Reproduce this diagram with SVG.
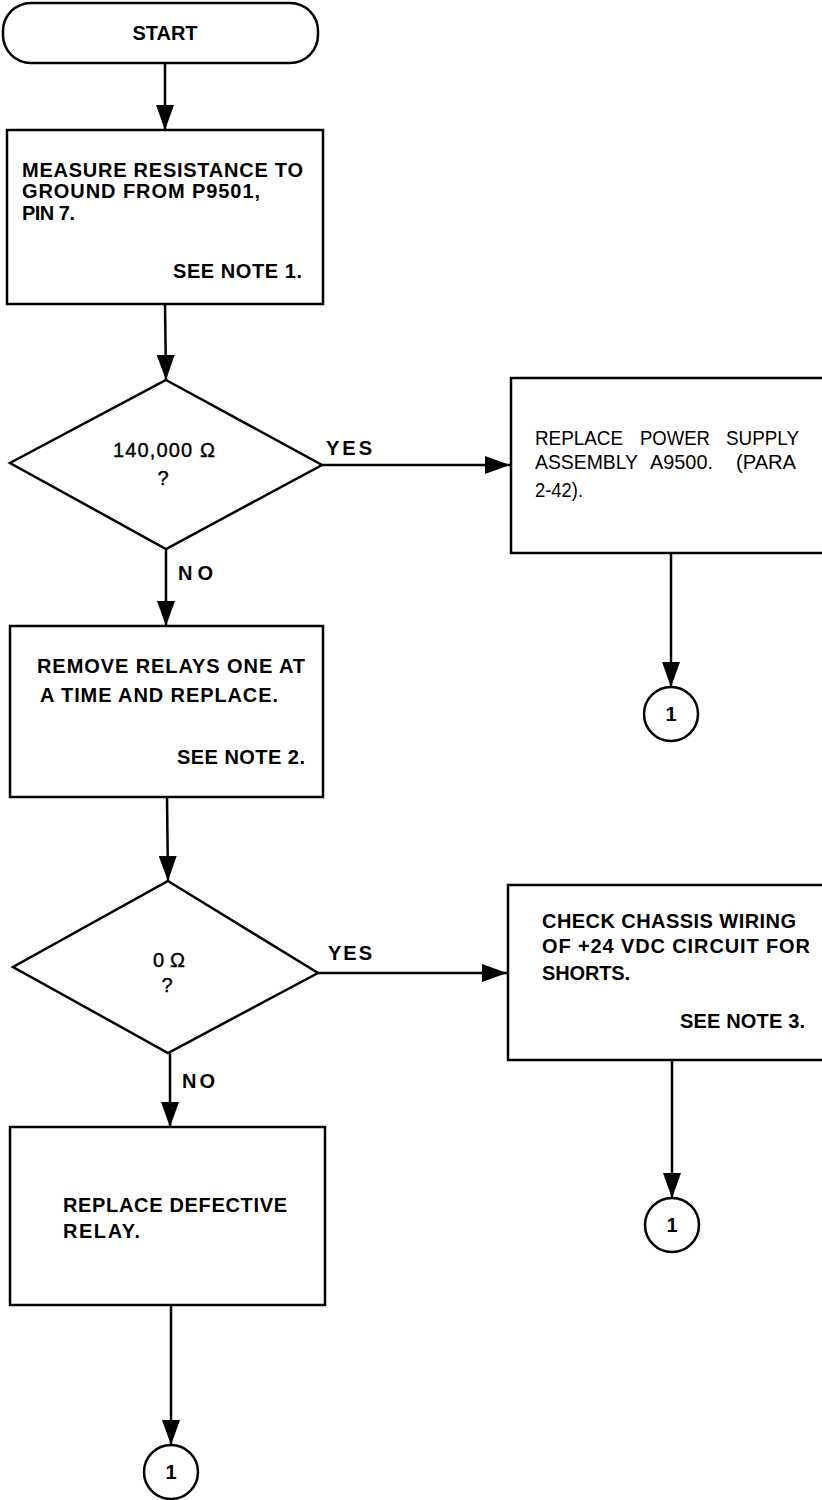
<svg xmlns="http://www.w3.org/2000/svg" width="822" height="1500" viewBox="0 0 822 1500">
<style>
.shape{fill:none;stroke:#000;stroke-width:2.5}
.line{fill:none;stroke:#000;stroke-width:2.5}
.b{font-family:"Liberation Sans",Arial,sans-serif;font-weight:bold;font-size:20px;fill:#000}
.r{font-family:"Liberation Sans",Arial,sans-serif;font-weight:normal;font-size:21px;fill:#000}
.q{font-family:"Liberation Sans",Arial,sans-serif;font-weight:normal;font-size:20px;fill:#000;stroke:#000;stroke-width:0.4}
.c{text-anchor:middle}
</style>
<defs>
<marker id="arr" markerUnits="userSpaceOnUse" markerWidth="26" markerHeight="18" refX="25" refY="9" orient="auto">
<path d="M0,0 L25,9 L0,18 z" fill="#000"/>
</marker>
</defs>
<rect width="822" height="1500" fill="#fff"/>
<g id="connectors">
<line class="line" x1="165" y1="63" x2="165" y2="130" marker-end="url(#arr)"/>
<line class="line" x1="165" y1="304" x2="166" y2="380" marker-end="url(#arr)"/>
<line class="line" x1="322" y1="465" x2="510" y2="465" marker-end="url(#arr)"/>
<line class="line" x1="166" y1="549" x2="166" y2="626" marker-end="url(#arr)"/>
<line class="line" x1="671" y1="553" x2="671" y2="687" marker-end="url(#arr)"/>
<line class="line" x1="167" y1="797" x2="168" y2="881" marker-end="url(#arr)"/>
<line class="line" x1="318" y1="973" x2="507" y2="973" marker-end="url(#arr)"/>
<line class="line" x1="170" y1="1053" x2="170" y2="1127" marker-end="url(#arr)"/>
<line class="line" x1="672" y1="1060" x2="672" y2="1198" marker-end="url(#arr)"/>
<line class="line" x1="171" y1="1305" x2="171" y2="1445" marker-end="url(#arr)"/>
<text class="b" x="326" y="455" textLength="46" lengthAdjust="spacing">YES</text>
<text class="b" x="178" y="580" textLength="35" lengthAdjust="spacing">NO</text>
<text class="b" x="328" y="960" textLength="44" lengthAdjust="spacing">YES</text>
<text class="b" x="182" y="1088" textLength="33" lengthAdjust="spacing">NO</text>
</g>
<g id="start">
<rect class="shape" x="3" y="3" width="315" height="60" rx="28" ry="28"/>
<text class="b c" x="165" y="40">START</text>
</g>
<g id="measure">
<rect class="shape" x="7" y="130" width="316" height="174"/>
<text class="b" x="22" y="177" textLength="281" lengthAdjust="spacing">MEASURE RESISTANCE TO</text>
<text class="b" x="22" y="198" textLength="238" lengthAdjust="spacing">GROUND FROM P9501,</text>
<text class="b" x="22" y="220" textLength="53" lengthAdjust="spacing">PIN 7.</text>
<text class="b" x="173" y="278" textLength="129" lengthAdjust="spacing">SEE NOTE 1.</text>
</g>
<g id="decision1">
<polygon class="shape" points="166,380 322,465 166,549 10,463"/>
<text class="q" x="113" y="457" textLength="102" lengthAdjust="spacing">140,000 Ω</text>
<text class="q c" x="163" y="485">?</text>
</g>
<g id="replace-power">
<path class="shape" d="M822,378 H511 V553 H822"/>
<text class="r" x="535" y="445" textLength="88" lengthAdjust="spacingAndGlyphs">REPLACE</text>
<text class="r" x="640" y="445" textLength="70" lengthAdjust="spacingAndGlyphs">POWER</text>
<text class="r" x="726" y="445" textLength="73" lengthAdjust="spacingAndGlyphs">SUPPLY</text>
<text class="r" x="535" y="469" textLength="103" lengthAdjust="spacingAndGlyphs">ASSEMBLY</text>
<text class="r" x="650" y="469" textLength="63" lengthAdjust="spacingAndGlyphs">A9500.</text>
<text class="r" x="736" y="469" textLength="60" lengthAdjust="spacingAndGlyphs">(PARA</text>
<text class="r" x="535" y="497" textLength="48" lengthAdjust="spacingAndGlyphs">2-42).</text>
</g>
<g id="conn1a">
<circle class="shape" cx="671" cy="714" r="27"/>
<text class="b c" x="671" y="721" font-size="18">1</text>
</g>
<g id="remove-relays">
<rect class="shape" x="10" y="626" width="313" height="171"/>
<text class="b" x="37" y="673" textLength="268" lengthAdjust="spacing">REMOVE RELAYS ONE AT</text>
<text class="b" x="40" y="702" textLength="238" lengthAdjust="spacing">A TIME AND REPLACE.</text>
<text class="b" x="177" y="764" textLength="128" lengthAdjust="spacing">SEE NOTE 2.</text>
</g>
<g id="decision2">
<polygon class="shape" points="168,881 318,973 168,1053 13,967"/>
<text class="q" x="153" y="967" textLength="32" lengthAdjust="spacing">0Ω</text>
<text class="q c" x="167" y="992">?</text>
</g>
<g id="check-chassis">
<path class="shape" d="M822,885 H508 V1060 H822"/>
<text class="b" x="542" y="928" textLength="254" lengthAdjust="spacing">CHECK CHASSIS WIRING</text>
<text class="b" x="542" y="953" textLength="268" lengthAdjust="spacing">OF +24 VDC CIRCUIT FOR</text>
<text class="b" x="542" y="980" textLength="88" lengthAdjust="spacing">SHORTS.</text>
<text class="b" x="680" y="1028" textLength="125" lengthAdjust="spacing">SEE NOTE 3.</text>
</g>
<g id="conn1b">
<circle class="shape" cx="672" cy="1225" r="27"/>
<text class="b c" x="672" y="1232" font-size="18">1</text>
</g>
<g id="replace-relay">
<rect class="shape" x="10" y="1127" width="315" height="178"/>
<text class="b" x="63" y="1212" textLength="224" lengthAdjust="spacing">REPLACE DEFECTIVE</text>
<text class="b" x="63" y="1238" textLength="77" lengthAdjust="spacing">RELAY.</text>
</g>
<g id="conn1c">
<circle class="shape" cx="171" cy="1472" r="27"/>
<text class="b c" x="171" y="1479" font-size="18">1</text>
</g>
</svg>
